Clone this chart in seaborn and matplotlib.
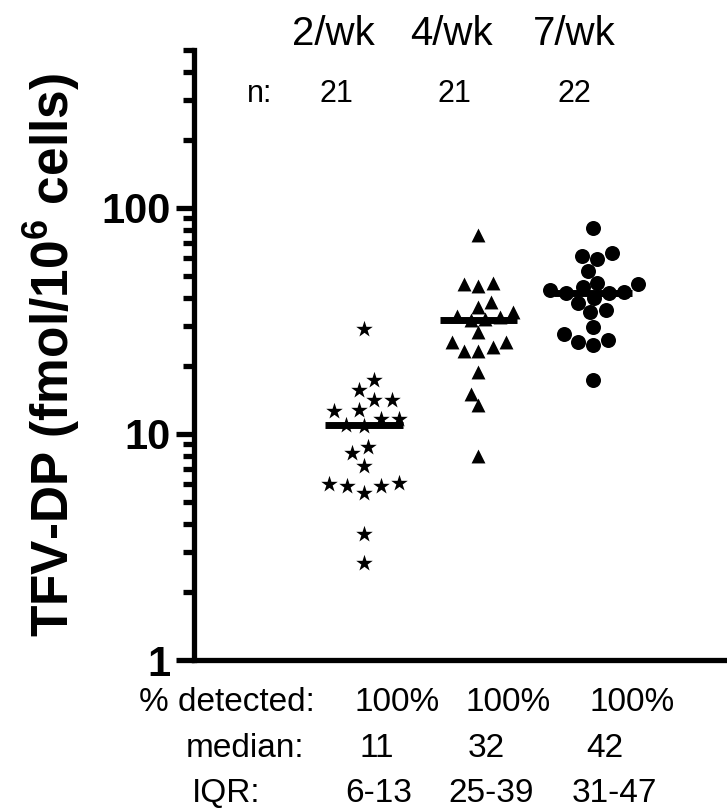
import matplotlib
matplotlib.use("Agg")
import matplotlib.pyplot as plt
import seaborn as sns
import pandas as pd

# Dosing groups and intracellular TFV-DP concentrations (fmol/10^6 cells)
groups = ["2/wk", "4/wk", "7/wk"]
tfv_2wk = [29.2, 17.3, 15.6, 14.1, 14.1, 12.8, 12.6, 11.7, 11.6, 11.0, 10.8,
           8.8, 8.2, 7.2, 6.1, 5.9, 5.5, 6.0, 5.9, 3.6, 2.7]
tfv_4wk = [76.3, 46.8, 46.0, 45.3, 38.2, 36.3, 34.5, 33.4, 32.8, 32.2, 31.8,
           28.2, 25.5, 25.5, 24.2, 23.4, 23.4, 18.8, 15.1, 13.4, 8.0]
tfv_7wk = [81.7, 63.4, 61.3, 59.7, 52.7, 46.5, 46.0, 44.5, 43.5, 42.5, 42.0,
           42.0, 40.0, 38.0, 35.2, 34.5, 29.7, 27.7, 26.1, 25.5, 24.7, 17.3]

# Summary rows shown above and below the plot
n_labels = ["21", "21", "22"]
pct_detected = ["100%", "100%", "100%"]
medians = [11, 32, 42]
iqr_labels = ["6-13", "25-39", "31-47"]

markers = ["*", "^", "o"]
marker_sizes = [12.5, 10, 10.8]

sns.set_theme(style="ticks")
plt.rcParams["font.family"] = ["Liberation Sans", "DejaVu Sans"]
plt.rcParams["mathtext.fontset"] = "custom"
plt.rcParams["mathtext.rm"] = "Liberation Sans:bold"
plt.rcParams["mathtext.it"] = "Liberation Sans:bold"
plt.rcParams["mathtext.bf"] = "Liberation Sans:bold"
for key in ["text.color", "axes.labelcolor", "xtick.color", "ytick.color",
            "axes.edgecolor"]:
    plt.rcParams[key] = "black"

fig = plt.figure(figsize=(7.27, 8.09), dpi=100)
W, H = 727, 809
ax_left, ax_right, ax_top, ax_bottom = 194, 727, 50, 660
ax = fig.add_axes([ax_left / W, (H - ax_bottom) / H,
                   (ax_right - ax_left) / W, (ax_bottom - ax_top) / H])
ax.set_yscale("log")
ax.set_ylim(1, 500)

series = [tfv_2wk, tfv_4wk, tfv_7wk]
for grp, vals, mk, ms in zip(groups, series, markers, marker_sizes):
    df = pd.DataFrame({"group": [grp] * len(vals), "tfv": vals})
    sns.swarmplot(data=df, x="group", y="tfv", order=groups, ax=ax,
                  color="black", marker=mk, size=ms, linewidth=0, zorder=3)

# Median bars
for i, m in enumerate(medians):
    ax.hlines(m, i - 0.34, i + 0.34, color="black", linewidth=5, zorder=4)

# x scale: group centres 114.5 px apart, first group at x=364 px
unit = 114.5
x0 = 364
ax.set_xlim((ax_left - x0) / unit, (ax_right - x0) / unit)
ax.set_ylim(1, 500)

for s in ["top", "right"]:
    ax.spines[s].set_visible(False)
for s in ["left", "bottom"]:
    ax.spines[s].set_linewidth(3.8)
    ax.spines[s].set_color("black")

ax.set_xticks([])
ax.set_xlabel("")
ax.set_yticks([1, 10, 100])
ax.set_yticklabels(["1", "10", "100"], fontsize=30, fontweight="bold")
ax.yaxis.set_minor_locator(matplotlib.ticker.LogLocator(base=10, subs=range(2, 10)))
ax.yaxis.set_minor_formatter(matplotlib.ticker.NullFormatter())
ax.tick_params(axis="y", which="major", length=13, width=3.8, color="black", pad=4)
ax.tick_params(axis="y", which="minor", length=8, width=3.8, color="black")
ax.set_ylabel(r"TFV-DP (fmol/10$^6$ cells)", fontsize=37, fontweight="bold",
              labelpad=14)

tr = ax.get_xaxis_transform()


def px_x(xpix):
    return (xpix - x0) / unit


def px_y(ypix):
    return (ax_bottom - ypix) / (ax_bottom - ax_top)


# Group headers and sample sizes
header_px = [333, 451, 574]
for g, xp in zip(groups, header_px):
    ax.text(px_x(xp), px_y(45), g, transform=tr, ha="center", va="baseline",
            fontsize=29, clip_on=False)
ax.text(px_x(260), px_y(102), "n:", transform=tr, ha="center", va="baseline",
        fontsize=22, clip_on=False)
n_px = [336, 454, 574]
for lab, xp in zip(n_labels, n_px):
    ax.text(px_x(xp), px_y(102), lab, transform=tr, ha="center", va="baseline",
            fontsize=22, clip_on=False)

# Summary table below the axis
ax.text(px_x(315), px_y(711), "% detected:", transform=tr, ha="right",
        va="baseline", fontsize=24, clip_on=False)
for lab, xp in zip(pct_detected, [397, 508, 632]):
    ax.text(px_x(xp), px_y(711), lab, transform=tr, ha="center",
            va="baseline", fontsize=24, clip_on=False)

ax.text(px_x(304), px_y(757), "median:", transform=tr, ha="right",
        va="baseline", fontsize=24, clip_on=False)
for m, xp in zip(medians, [377, 486, 605]):
    ax.text(px_x(xp), px_y(757), f"{m}", transform=tr, ha="center",
            va="baseline", fontsize=24, clip_on=False)

ax.text(px_x(192), px_y(802), "IQR:", transform=tr, ha="left",
        va="baseline", fontsize=24, clip_on=False)
for lab, xp in zip(iqr_labels, [379, 491, 614]):
    ax.text(px_x(xp), px_y(802), lab, transform=tr, ha="center",
            va="baseline", fontsize=24, clip_on=False)

fig.savefig("out.png", dpi=100)
